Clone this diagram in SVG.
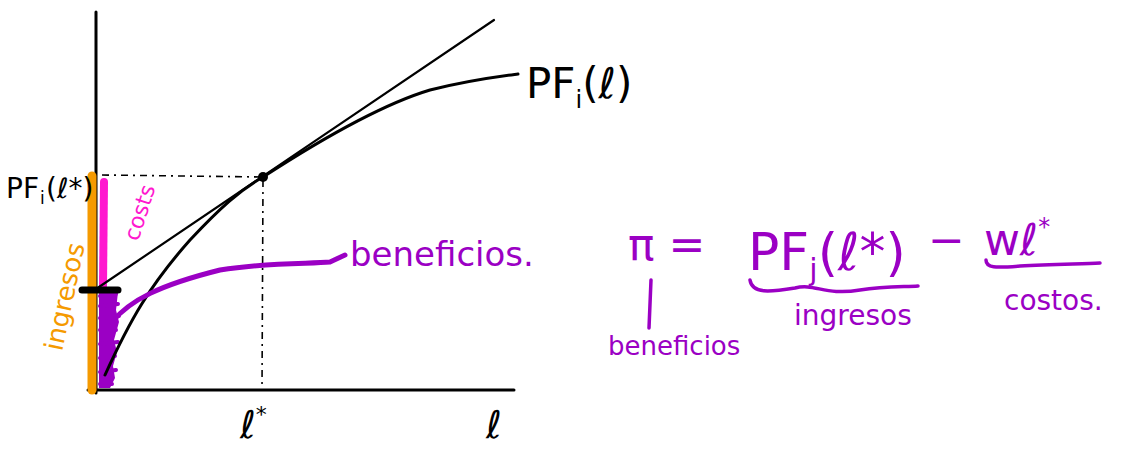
<svg xmlns="http://www.w3.org/2000/svg" width="1122" height="452" viewBox="0 0 1122 452">
<style>
.ax{stroke:#000;stroke-width:3;fill:none;stroke-linecap:round}
.thin{stroke:#000;stroke-width:2.2;fill:none;stroke-linecap:round}
.dash{stroke:#000;stroke-width:1.6;fill:none;stroke-dasharray:7 5 2 5}
.pu{stroke:#9b00c4;fill:none;stroke-linecap:round;stroke-linejoin:round}
.tk{font-family:"DejaVu Sans",sans-serif;fill:#000}
.tp{font-family:"DejaVu Sans",sans-serif;fill:#9b00c4}
</style>
<rect width="1122" height="452" fill="#fff"/>
<g id="axes">
<path class="ax" d="M96 12 L96 393"/>
<path class="ax" d="M88 390 L514 390"/>
</g>
<g id="bars">
<path d="M92 176 L92 390" stroke="#f59a00" stroke-width="9" stroke-linecap="round" fill="none"/>
<path d="M104 182 L103 286" stroke="#ff18cf" stroke-width="8" stroke-linecap="round" fill="none"/>
<path d="M99 292 L118 292 L116 310 L119 322 L114 340 L117 352 L113 366 L115 378 L110 388 L99 388 Z" fill="#9b00c4"/>
<path d="M100 296 L116 294 M100 306 L118 304 M100 318 L119 316 M100 330 L116 330 M100 344 L118 342 M100 358 L115 356 M100 372 L116 370 M100 384 L112 384" class="pu" stroke-width="4"/>
<path d="M82 290 L118 290" stroke="#000" stroke-width="7" stroke-linecap="round"/>
</g>
<g id="connectors">
<path class="thin" d="M99 287 L494 20"/>
<path class="ax" d="M105 375 C130 320 150 285 190 240 C220 208 240 190 263 177 C320 140 380 105 430 90 C470 80 495 77 518 74"/>
<path class="dash" d="M102 175 L263 177"/>
<path class="dash" d="M263 180 L262 390"/>
<path class="pu" stroke-width="5" d="M112 322 C130 300 160 285 220 270 C270 262 310 264 330 262 L345 255"/>
<path class="pu" stroke-width="3.5" d="M651 280 L649 328"/>
<path class="pu" stroke-width="3.5" d="M750 280 C752 294 770 292 795 288 C815 283 825 296 860 290 C885 286 905 287 918 286"/>
<path class="pu" stroke-width="3.5" d="M986 260 C986 268 995 268 1020 266 C1050 264 1080 264 1100 263"/>
</g>
<circle id="point" cx="263" cy="177" r="5" fill="#000"/>
<g id="labels">
<text class="tk" x="6" y="198" font-size="28">PF</text>
<text class="tk" x="40" y="204" font-size="17">i</text>
<text class="tk" x="46" y="198" font-size="28">(ℓ*)</text>
<text class="tk" x="526" y="98" font-size="42">PF<tspan font-size="24" dy="10">i</tspan><tspan dy="-10">(ℓ)</tspan></text>
<text class="tk" x="240" y="438" font-size="38" font-style="italic">ℓ<tspan font-size="22" dy="-16">*</tspan></text>
<text class="tk" x="486" y="438" font-size="38" font-style="italic">ℓ</text>
<text transform="translate(138,242) rotate(-72)" font-family="DejaVu Sans,sans-serif" font-size="22" fill="#ff18cf">costs</text>
<text transform="translate(62,352) rotate(-78)" font-family="DejaVu Sans,sans-serif" font-size="26" fill="#f59a00">ingresos</text>
<text class="tp" x="350" y="266" font-size="34">beneficios.</text>
<text class="tp" x="628" y="260" font-size="44">π =</text>
<text class="tp" x="748" y="270" font-size="52">PF<tspan font-size="30" dy="10">j</tspan><tspan dy="-10">(ℓ*)</tspan></text>
<text class="tp" x="928" y="255" font-size="44">−</text>
<text class="tp" x="984" y="255" font-size="44">wℓ<tspan font-size="24" dy="-20">*</tspan></text>
<text class="tp" x="794" y="325" font-size="28">ingresos</text>
<text class="tp" x="1004" y="310" font-size="28">costos.</text>
<text class="tp" x="608" y="355" font-size="26">beneficios</text>
</g>
</svg>
